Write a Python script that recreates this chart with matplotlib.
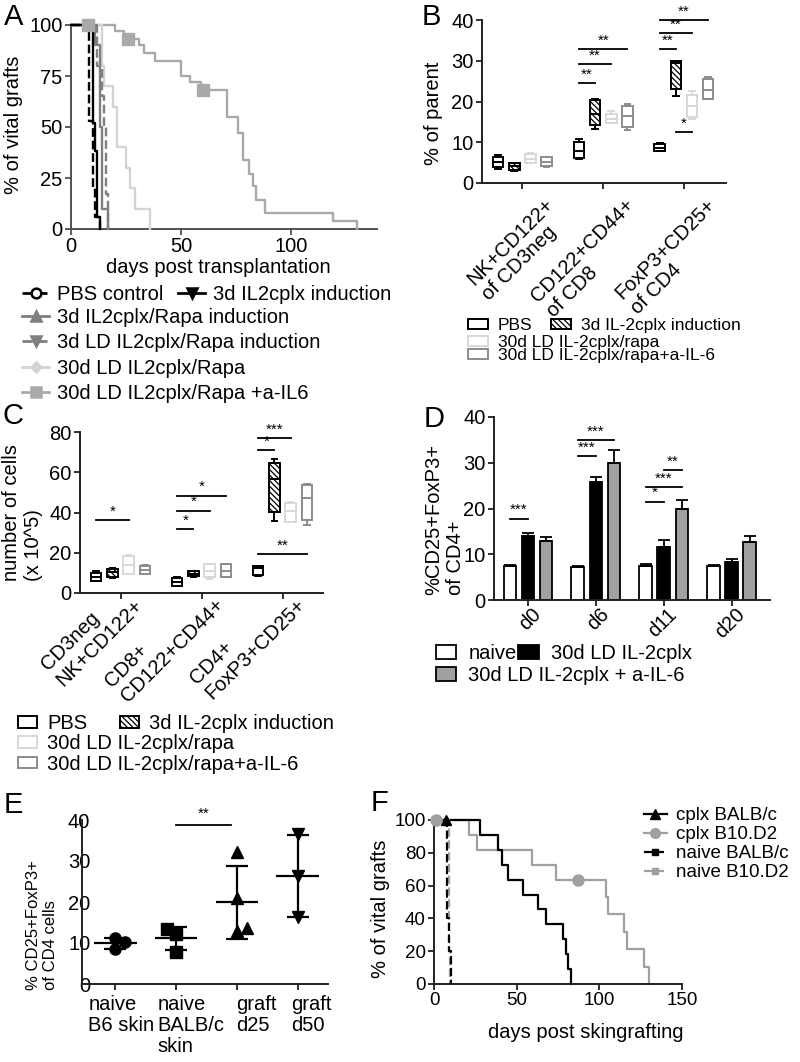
import numpy as np
import matplotlib
matplotlib.use('Agg')
import matplotlib.pyplot as plt
import matplotlib.transforms as mtrans
from matplotlib.patches import Patch
from matplotlib.lines import Line2D

plt.rcParams['font.family'] = ['Liberation Sans', 'DejaVu Sans']
plt.rcParams['hatch.linewidth'] = 0.9

# ======================= DATA =======================
# ---- Panel A: graft survival (step curves: day, % vital grafts) ----
A_labels = ['PBS control', '3d IL2cplx induction', '3d IL2cplx/Rapa induction',
            '3d LD IL2cplx/Rapa induction', '30d LD IL2cplx/Rapa', '30d LD IL2cplx/Rapa +a-IL6']
A_pbs_t = [0, 8, 10, 11, 13]
A_pbs_s = [100, 53, 20, 6, 0]
A_il2_t = [0, 10, 11, 12, 13]
A_il2_s = [100, 52, 38, 6, 0]
A_rapa_t = [0, 11, 13, 14, 17]
A_rapa_s = [100, 90, 50, 10, 0]
A_ld_t = [0, 12, 14, 15, 16, 17]
A_ld_s = [100, 80, 65, 50, 17, 0]
A_30d_t = [0, 14, 15, 19, 21, 25, 27, 29, 36]
A_30d_s = [100, 80, 70, 60, 40, 30, 20, 10, 0]
A_il6_t = [0, 20, 24, 31, 33, 38, 50, 54, 59, 71, 76, 78, 81, 82.5, 84, 88, 119, 130]
A_il6_s = [100, 97, 93, 90, 86.5, 82.5, 75, 72, 68, 55, 47, 34, 27, 21, 14, 8, 4, 0]
A_il6_cens_t = [7.5, 26, 60]
A_il6_cens_s = [100, 93, 68]

# ---- Panels B & C: box plots (per group: PBS, 3d, 30d rapa, 30d rapa+a-IL-6) ----
BC_treatments = ['PBS', '3d IL-2cplx induction', '30d LD IL-2cplx/rapa', '30d LD IL-2cplx/rapa+a-IL-6']
B_groups = ['NK+CD122+\nof CD3neg', 'CD122+CD44+\nof CD8', 'FoxP3+CD25+\nof CD4']
B_lo  = [[3.5, 3.0, 4.8, 4.0], [6.0, 13.3, 14.7, 13.1], [7.8, 21.3, 15.8, 20.5]]
B_q1  = [[3.9, 3.1, 4.8, 4.2], [6.2, 14.2, 14.8, 13.8], [7.9, 23.0, 16.2, 20.5]]
B_med = [[5.2, 4.2, 5.8, 5.2], [7.9, 17.0, 15.8, 16.4], [8.7, 29.5, 18.9, 22.8]]
B_q3  = [[6.4, 4.9, 7.0, 6.4], [10.1, 20.3, 17.0, 18.9], [9.5, 29.9, 21.6, 25.4]]
B_hi  = [[6.8, 5.0, 7.3, 6.5], [10.7, 20.5, 17.6, 19.5], [9.7, 30.0, 22.5, 26.1]]
B_sig = [(0.7, 0.9, 24.6, '**'), (0.7, 1.1, 29.2, '**'), (0.7, 1.3, 33.0, '**'),
         (1.7, 1.9, 33.0, '**'), (1.7, 2.1, 36.7, '**'), (1.7, 2.3, 40.0, '**'),
         (1.9, 2.1, 12.4, '*')]

C_groups = ['CD3neg\nNK+CD122+', 'CD8+\nCD122+CD44+', 'CD4+\nFoxP3+CD25+']
C_lo  = [[5.8, 7.6, 9.6, 9.3], [3.3, 8.0, 7.1, 8.0], [8.6, 35.7, 35.4, 34.0]]
C_q1  = [[6.0, 8.0, 9.6, 9.6], [3.5, 8.3, 8.0, 8.0], [9.1, 40.4, 35.4, 36.2]]
C_med = [[8.0, 10.5, 13.8, 11.6], [5.5, 9.6, 11.0, 11.0], [12.6, 56.6, 40.7, 47.3]]
C_q3  = [[10.0, 12.1, 18.3, 13.3], [7.6, 10.8, 14.3, 14.3], [13.3, 64.8, 44.9, 53.7]]
C_hi  = [[11.0, 12.5, 18.8, 14.1], [8.0, 11.0, 14.6, 14.6], [13.5, 66.6, 45.3, 54.2]]
C_sig = [(-0.3, 0.1, 36.2, '*'), (0.7, 0.9, 31.6, '*'), (0.7, 1.1, 40.9, '*'),
         (0.7, 1.3, 48.3, '*'), (1.7, 1.9, 70.9, '*'), (1.7, 2.1, 77.0, '***'),
         (1.7, 2.3, 19.4, '**')]

# ---- Panel D: bars (mean, upper SEM) ----
D_days = ['d0', 'd6', 'd11', 'd20']
D_series = ['naive', '30d LD IL-2cplx', '30d LD IL-2cplx + a-IL-6']
D_naive = [7.5, 7.2, 7.4, 7.4]
D_ld = [13.9, 25.8, 11.6, 8.3]
D_il6 = [12.8, 30.0, 20.0, 12.6]
D_naive_err = [0.2, 0.15, 0.5, 0.3]
D_ld_err = [0.8, 1.1, 1.5, 0.7]
D_il6_err = [1.0, 2.8, 1.8, 1.3]
D_sig = [(-0.265, 0.0, 17.8, '***'), (0.735, 1.0, 31.5, '***'), (0.735, 1.265, 34.9, '***'),
         (1.735, 2.0, 21.5, '*'), (1.735, 2.265, 24.7, '***'), (2.0, 2.265, 28.4, '**')]

# ---- Panel E: scatter with mean +/- SD ----
E_cats = ['naive\nB6 skin', 'naive\nBALB/c\nskin', 'graft\nd25', 'graft\nd50']
E_b6 = [11.1, 10.2, 8.5]
E_balb = [13.3, 12.2, 7.9]
E_d25 = [32.2, 20.9, 13.0, 13.6]
E_d50 = [36.5, 26.3, 16.4]
E_jitter = [[0, 0.15, 0], [-0.15, 0, 0], [0, 0, 0, 0.16], [0, 0, 0]]
E_sig = [(1.0, 1.9, 38.9, '**')]

# ---- Panel F: skin graft survival ----
F_labels = ['cplx BALB/c', 'cplx B10.D2', 'naive BALB/c', 'naive B10.D2']
F_cb_t = [0, 28, 39, 41, 45, 54, 63, 68, 78, 80, 81, 83]
F_cb_s = [100, 90.9, 81.8, 72.7, 63.6, 54.5, 45.5, 36.4, 27.3, 18.2, 9.1, 0]
F_cd_t = [0, 21, 26, 59, 74, 104, 105, 115, 117, 127, 130]
F_cd_s = [100, 90.9, 81.8, 72.7, 63.6, 53.0, 42.4, 31.8, 21.2, 10.6, 0]
F_nb_t = [0, 8, 9, 10.5]
F_nb_s = [100, 40, 20, 0]
F_nd_t = [0, 9, 9.6]
F_nd_s = [100, 20, 0]
F_cb_cens_t = [7]
F_cb_cens_s = [100]
F_cd_cens_t = [1, 87]
F_cd_cens_s = [100, 63.6]

# ======================= FIGURE =======================
W, H = 800, 1062
fig = plt.figure(figsize=(W / 100, H / 100), dpi=100)
AX_COL = '#202020'
FS = 14.5


def add_ax(l, t, r, b, col=AX_COL):
    ax = fig.add_axes([l / W, 1 - b / H, (r - l) / W, (b - t) / H])
    for s in ['top', 'right']:
        ax.spines[s].set_visible(False)
    for s in ['left', 'bottom']:
        ax.spines[s].set_linewidth(1.4)
        ax.spines[s].set_color(col)
    ax.patch.set_alpha(0)
    ax.tick_params(labelsize=FS, width=1.3, length=4, color=col, pad=2)
    return ax


def letter(x, y, s):
    fig.text(x / W, 1 - y / H, s, fontsize=21, ha='left', va='top')


def fy(y):
    return 1 - y / H


def sigbars(ax, sig, dy, fs=11):
    for x1, x2, y, lab in sig:
        ax.plot([x1, x2], [y, y], color='black', lw=1.3, clip_on=False)
        ax.text((x1 + x2) / 2, y + dy, lab, ha='center', va='bottom', fontsize=fs, clip_on=False)


def rot_labels(ax, labels, dx_px, dy_px, fs=FS):
    ax.set_xticklabels(labels, rotation=45, ha='right', va='center', rotation_mode='anchor',
                       multialignment='left', fontsize=fs)
    ax.tick_params(axis='x', pad=0)
    off = mtrans.ScaledTranslation(dx_px / 100, -dy_px / 100, fig.dpi_scale_trans)
    for lab in ax.get_xticklabels():
        lab.set_transform(lab.get_transform() + off)


# ---------------- Panel A ----------------
axA = add_ax(71, 25, 377, 229, col='#505050')
A_t = [A_pbs_t, A_il2_t, A_rapa_t, A_ld_t, A_30d_t, A_il6_t]
A_s = [A_pbs_s, A_il2_s, A_rapa_s, A_ld_s, A_30d_s, A_il6_s]
A_colors = ['black', 'black', '#7f7f7f', '#7f7f7f', '#d4d4d4', '#a9a9a9']
A_ls = ['--', '-', '-', '--', '-', '-']
A_mk = ['o', 'v', '^', 'v', 'D', 's']
A_mfc = ['white', 'black', '#7f7f7f', '#7f7f7f', '#d4d4d4', '#a9a9a9']
order = [5, 4, 2, 3, 1, 0]
for i in order:
    axA.step(A_t[i], A_s[i], where='post', color=A_colors[i], ls=A_ls[i], lw=1.7,
             clip_on=False, zorder=3 + (5 - i) * 0.1)
axA.plot(A_il6_cens_t, A_il6_cens_s, ls='none', marker='s', ms=9, color='#a9a9a9',
         clip_on=False, zorder=5)
axA.set_xlim(0, 139)
axA.set_ylim(0, 100)
axA.set_xticks([0, 50, 100])
axA.set_yticks([0, 25, 50, 75, 100])
axA.set_ylabel('% of vital grafts', fontsize=FS)
axA.yaxis.set_label_coords(-0.157, 0.51)
axA.set_xlabel('days post transplantation', fontsize=FS)
axA.xaxis.set_label_coords(0.48, -0.14)
A_handles = [Line2D([], [], color=A_colors[i], ls=A_ls[i], lw=2, marker=A_mk[i],
                    mfc=A_mfc[i], mec=A_colors[i], ms=7 if A_mk[i] != 'D' else 5, mew=1.8)
             for i in range(6)]
legA1 = fig.legend(A_handles[:2], A_labels[:2], ncol=2, loc='upper left',
                   bbox_to_anchor=(22 / W, fy(285)), frameon=False, fontsize=FS,
                   handlelength=1.35, handletextpad=0.4, columnspacing=0.72,
                   borderpad=0, borderaxespad=0, labelspacing=0.32)
legA2 = fig.legend(A_handles[2:], A_labels[2:], ncol=1, loc='upper left',
                   bbox_to_anchor=(22 / W, fy(308)), frameon=False, fontsize=FS,
                   handlelength=1.35, handletextpad=0.4,
                   borderpad=0, borderaxespad=0, labelspacing=0.32)

# ---------------- Box plot helper (B, C) ----------------
BOX_EDGE = ['black', 'black', '#d8d8d8', '#8c8c8c']
BOX_HATCH = [None, '\\\\\\\\\\\\', None, None]
BOX_OFF = [-0.3, -0.1, 0.1, 0.3]


def boxpanel(ax, lo, q1, med, q3, hi):
    ng = len(lo)
    for k in range(4):
        stats = [dict(whislo=lo[g][k], q1=q1[g][k], med=med[g][k], q3=q3[g][k],
                      whishi=hi[g][k], label='') for g in range(ng)]
        pos = [g + BOX_OFF[k] for g in range(ng)]
        c = BOX_EDGE[k]
        bp = ax.bxp(stats, positions=pos, widths=0.13, patch_artist=True, showfliers=False,
                    showcaps=True, capwidths=0.07,
                    boxprops=dict(facecolor='white', edgecolor=c, linewidth=1.4),
                    medianprops=dict(color=c, linewidth=1.4),
                    whiskerprops=dict(color=c, linewidth=1.4),
                    capprops=dict(color=c, linewidth=1.4), manage_ticks=False)
        if BOX_HATCH[k]:
            for b in bp['boxes']:
                b.set_hatch(BOX_HATCH[k])


BOX_HANDLES = [Patch(facecolor='white', edgecolor=BOX_EDGE[k], hatch=BOX_HATCH[k], linewidth=1.4)
               for k in range(4)]

# ---------------- Panel B ----------------
axB = add_ax(482, 20, 726, 183)
boxpanel(axB, B_lo, B_q1, B_med, B_q3, B_hi)
axB.set_xlim(-0.5, 2.52)
axB.set_ylim(0, 40)
axB.set_yticks([0, 10, 20, 30, 40])
axB.set_xticks(range(3))
rot_labels(axB, B_groups, 36, 21)
sigbars(axB, B_sig, 0.3)
axB.set_ylabel('% of parent', fontsize=FS)
axB.yaxis.set_label_coords(-0.16, 0.43)
legB1 = fig.legend(BOX_HANDLES[:2], BC_treatments[:2], ncol=2, loc='upper left',
                   bbox_to_anchor=(468 / W, fy(318)), frameon=False, fontsize=12.5,
                   handlelength=1.15, handleheight=0.55, handletextpad=0.55, columnspacing=1.1,
                   borderpad=0, borderaxespad=0, labelspacing=-0.12)
legB2 = fig.legend(BOX_HANDLES[2:], BC_treatments[2:], ncol=1, loc='upper left',
                   bbox_to_anchor=(468 / W, fy(335)), frameon=False, fontsize=12.5,
                   handlelength=1.15, handleheight=0.55, handletextpad=0.55,
                   borderpad=0, borderaxespad=0, labelspacing=-0.12)

# ---------------- Panel C ----------------
axC = add_ax(80, 432, 323, 593)
boxpanel(axC, C_lo, C_q1, C_med, C_q3, C_hi)
axC.set_xlim(-0.5, 2.5)
axC.set_ylim(0, 80)
axC.set_yticks([0, 20, 40, 60, 80])
axC.set_xticks(range(3))
rot_labels(axC, C_groups, 12, -4)
sigbars(axC, C_sig, 0.8)
axC.set_ylabel('number of cells\n(x 10^5)', fontsize=FS, multialignment='left')
axC.yaxis.set_label_coords(-0.152, 0.5)
legC1 = fig.legend(BOX_HANDLES[:2], BC_treatments[:2], ncol=2, loc='upper left',
                   bbox_to_anchor=(18 / W, fy(714)), frameon=False, fontsize=FS,
                   handlelength=0.95, handleheight=0.5, handletextpad=0.5, columnspacing=1.6,
                   borderpad=0, borderaxespad=0, labelspacing=0.05)
legC2 = fig.legend(BOX_HANDLES[2:], BC_treatments[2:], ncol=1, loc='upper left',
                   bbox_to_anchor=(18 / W, fy(734)), frameon=False, fontsize=FS,
                   handlelength=0.95, handleheight=0.5, handletextpad=0.5,
                   borderpad=0, borderaxespad=0, labelspacing=0.08)

# ---------------- Panel D ----------------
axD = add_ax(494, 417, 770, 600)
xD = np.arange(len(D_days))
D_vals = [D_naive, D_ld, D_il6]
D_errs = [D_naive_err, D_ld_err, D_il6_err]
D_cols = ['white', 'black', '#a0a0a0']
D_off = [-0.265, 0.0, 0.265]
D_handles = []
for k in range(3):
    err = np.vstack([np.zeros(len(D_days)), D_errs[k]])
    axD.bar(xD + D_off[k], D_vals[k], width=0.19, color=D_cols[k], edgecolor='black',
            linewidth=1.3, yerr=err, capsize=4,
            error_kw=dict(elinewidth=1.3, capthick=1.3, ecolor='black'), zorder=2)
    D_handles.append(Patch(facecolor=D_cols[k], edgecolor='black', linewidth=1.3))
axD.set_xlim(-0.5, 3.56)
axD.set_ylim(0, 40)
axD.set_yticks([0, 10, 20, 30, 40])
axD.set_xticks(xD)
rot_labels(axD, D_days, 10, 6)
sigbars(axD, D_sig, 0.3)
axD.set_ylabel('%CD25+FoxP3+\nof CD4+', fontsize=FS, multialignment='left')
axD.yaxis.set_label_coords(-0.105, 0.44)
legD1 = fig.legend(D_handles[:2], D_series[:2], ncol=2, loc='upper left',
                   bbox_to_anchor=(436 / W, fy(644)), frameon=False, fontsize=FS,
                   handlelength=1.0, handleheight=0.75, handletextpad=0.6, columnspacing=0.1,
                   borderpad=0, borderaxespad=0, labelspacing=-0.1)
legD2 = fig.legend(D_handles[2:], D_series[2:], ncol=1, loc='upper left',
                   bbox_to_anchor=(436 / W, fy(666)), frameon=False, fontsize=FS,
                   handlelength=1.0, handleheight=0.75, handletextpad=0.6,
                   borderpad=0, borderaxespad=0, labelspacing=-0.1)

# ---------------- Panel E ----------------
axE = add_ax(82, 820, 328, 984)
E_vals = [E_b6, E_balb, E_d25, E_d50]
E_mk = ['o', 's', '^', 'v']
for i, vals in enumerate(E_vals):
    xs = [i + j for j in E_jitter[i]]
    axE.plot(xs, vals, ls='none', marker=E_mk[i], color='black', ms=8, clip_on=False, zorder=3)
    m = np.mean(vals)
    sd = np.std(vals, ddof=1)
    axE.errorbar([i], [m], yerr=[sd], color='black', lw=1.6, capsize=8, capthick=1.6, zorder=2)
    axE.hlines(m, i - 0.35, i + 0.35, color='black', lw=1.6, zorder=2)
axE.set_xlim(-0.55, 3.5)
axE.set_ylim(0, 40)
axE.set_yticks([0, 10, 20, 30, 40])
axE.tick_params(axis='y', length=0, pad=-6)
axE.set_xticks(range(4))
axE.set_xticklabels(E_cats, fontsize=14.5, multialignment='left', va='top', ha='center',
                    linespacing=1.12)
E_label_dx = [6, 15, 19, 14]
for lab, dx in zip(axE.get_xticklabels(), E_label_dx):
    lab.set_transform(lab.get_transform() +
                      mtrans.ScaledTranslation(dx / 100, -0.03, fig.dpi_scale_trans))
sigbars(axE, E_sig, 0.8)
axE.set_ylabel('% CD25+FoxP3+\nof CD4 cells', fontsize=12, multialignment='left')
axE.yaxis.set_label_coords(-0.097, 0.36)

# ---------------- Panel F ----------------
axF = add_ax(434, 820, 682, 984)
F_t = [F_cb_t, F_cd_t, F_nb_t, F_nd_t]
F_s = [F_cb_s, F_cd_s, F_nb_s, F_nd_s]
F_cols = ['black', '#a0a0a0', 'black', '#a0a0a0']
F_ls = ['-', '-', '--', '--']
F_mk = ['^', 'o', 's', 's']
for i in [1, 0, 3, 2]:
    axF.step(F_t[i], F_s[i], where='post', color=F_cols[i], ls=F_ls[i], lw=1.6, clip_on=False)
axF.plot(F_cb_cens_t, F_cb_cens_s, ls='none', marker='^', color='black', ms=7, clip_on=False, zorder=5)
axF.plot(F_cd_cens_t, F_cd_cens_s, ls='none', marker='o', color='#a0a0a0', ms=8, clip_on=False, zorder=5)
axF.set_xlim(0, 150)
axF.set_ylim(0, 100)
axF.set_xticks([0, 50, 100, 150])
axF.set_yticks([0, 20, 40, 60, 80, 100])
axF.tick_params(labelsize=13.5)
axF.set_ylabel('% of vital grafts', fontsize=FS)
axF.yaxis.set_label_coords(-0.177, 0.46)
axF.set_xlabel('days post skingrafting', fontsize=FS)
axF.xaxis.set_label_coords(0.61, -0.235)
F_handles = [Line2D([], [], color=F_cols[i], ls=F_ls[i], lw=1.6, marker=F_mk[i],
                    ms=7 if i < 2 else 5, mfc=F_cols[i], mec=F_cols[i]) for i in range(4)]
legF = fig.legend(F_handles, F_labels, loc='upper left', bbox_to_anchor=(644 / W, fy(807)),
                  frameon=False, fontsize=13.5, handlelength=1.2, handletextpad=0.5,
                  borderpad=0, borderaxespad=0, labelspacing=0.1)

# ---------------- panel letters ----------------
letter(4, 3, 'A')
letter(422, 3, 'B')
letter(3, 402, 'C')
letter(424, 405, 'D')
letter(4, 791, 'E')
letter(371, 789, 'F')

fig.savefig('out.png', dpi=100)
